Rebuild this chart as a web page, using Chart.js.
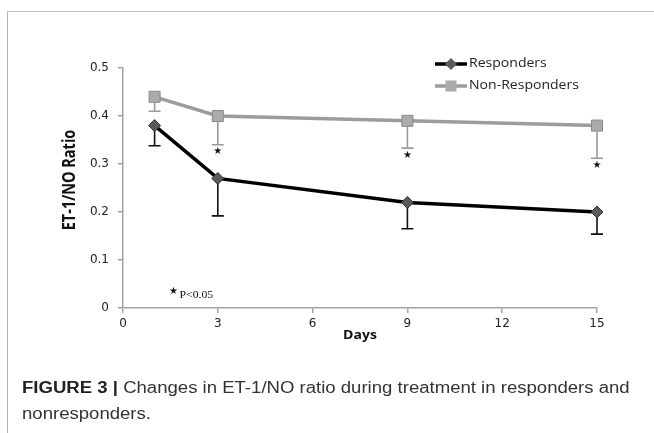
<!DOCTYPE html>
<html>
<head>
<meta charset="utf-8">
<script src="https://cdn.jsdelivr.net/npm/chart.js@4.4.1/dist/chart.umd.min.js"></script>
<style>
  html, body { margin: 0; padding: 0; background: #fff; }
  #wrap { position: relative; width: 654px; height: 433px; overflow: hidden; }
  #frame { position: absolute; left: 7px; top: 11px; width: 660px; height: 440px;
           border-top: 1px solid #c4c4c4; border-left: 1px solid #b4b4b4; }
  #chart { position: absolute; left: 0; top: 0; }
  .cap { position: absolute; left: 22px; font-family: "Liberation Sans", Arial, sans-serif;
         font-size: 16px; color: #333; white-space: nowrap;
         transform: scaleX(1.16); transform-origin: 0 0; }
  .cap b { color: #222; }
</style>
</head>
<body>
<div id="wrap">
  <div id="frame"></div>
  <canvas id="chart" width="654" height="433"></canvas>
  <div class="cap" style="top:379px"><b>FIGURE 3</b> <b>|</b> Changes in ET-1/NO ratio during treatment in responders and</div>
  <div class="cap" style="top:405px">nonresponders.</div>
</div>
<script>
// data
const days = [1, 3, 9, 15];
const responders = [0.38, 0.27, 0.22, 0.20];
const respondersErr = [0.042, 0.078, 0.055, 0.046];
const nonResponders = [0.44, 0.40, 0.39, 0.38];
const nonRespondersErr = [0.03, 0.06, 0.057, 0.068];
const significant = [false, true, true, true];
const xTicks = [0, 3, 6, 9, 12, 15];
const yTicks = [0, 0.1, 0.2, 0.3, 0.4, 0.5];
const seriesNames = ['Responders', 'Non-Responders'];

const axisGrey = '#a3a3a3';
const stretch = 1.17; // the source picture is a bit wider than tall

function wideText(ctx, text, x, y) {
    ctx.save();
    ctx.translate(x, y);
    ctx.scale(stretch, 1);
    ctx.fillText(text, 0, 0);
    ctx.restore();
}

// error bars (downward only), stars, titles and legend
const extras = {
    id: 'extras',
    beforeDatasetsDraw(chart) {
        const { ctx, scales: { x, y } } = chart;
        const errs = [respondersErr, nonRespondersErr];
        ctx.save();
        chart.data.datasets.forEach((ds, i) => {
            ctx.strokeStyle = i === 0 ? '#111' : '#9a9a9a';
            ctx.lineWidth = 1.6;
            ds.data.forEach((pt, j) => {
                const px = x.getPixelForValue(pt.x);
                const y0 = y.getPixelForValue(pt.y);
                const y1 = y.getPixelForValue(pt.y - errs[i][j]);
                ctx.beginPath();
                ctx.moveTo(px, y0);
                ctx.lineTo(px, y1);
                ctx.moveTo(px - 6, y1);
                ctx.lineTo(px + 6, y1);
                ctx.stroke();
            });
        });
        ctx.restore();
    },
    afterDraw(chart) {
        const { ctx, scales: { x, y } } = chart;
        ctx.save();
        ctx.fillStyle = '#111';
        ctx.textAlign = 'center';
        ctx.textBaseline = 'middle';
        ctx.font = '10px "DejaVu Sans"';
        nonResponders.forEach((v, j) => {
            if (!significant[j]) return;
            const px = x.getPixelForValue(days[j]);
            const py = y.getPixelForValue(v - nonRespondersErr[j]);
            ctx.fillText('★', px, py + 7);
        });
        // footnote
        const nx = x.getPixelForValue(1.6);
        const ny = y.getPixelForValue(0.035);
        ctx.fillText('★', nx, ny);
        ctx.textAlign = 'left';
        ctx.font = '10px "Liberation Serif"';
        wideText(ctx, 'P<0.05', nx + 6, ny + 4);

        // axis titles
        ctx.fillStyle = '#111';
        ctx.textAlign = 'center';
        ctx.font = 'bold 12px "Open Sans"';
        wideText(ctx, 'Days', (x.left + x.right) / 2, 336);
        ctx.save();
        ctx.translate(70, 180);
        ctx.rotate(-Math.PI / 2);
        ctx.scale(1, stretch);
        ctx.font = 'bold 14.5px "Open Sans"';
        ctx.fillText('ET-1/NO Ratio', 0, 0);
        ctx.restore();

        // legend
        const ly = [64, 86];
        chart.data.datasets.forEach((ds, i) => {
            ctx.strokeStyle = ds.borderColor;
            ctx.lineWidth = ds.borderWidth;
            ctx.beginPath();
            ctx.moveTo(435, ly[i]);
            ctx.lineTo(467, ly[i]);
            ctx.stroke();
            ctx.fillStyle = ds.pointBackgroundColor;
            ctx.strokeStyle = ds.pointBorderColor;
            ctx.lineWidth = 1;
            Chart.helpers.drawPoint(ctx, { pointStyle: ds.pointStyle, radius: ds.pointRadius, rotation: 0 }, 451, ly[i]);
            ctx.fillStyle = '#222';
            ctx.textAlign = 'left';
            ctx.font = '12px "Open Sans"';
            wideText(ctx, seriesNames[i], 469, ly[i]);
        });
        ctx.restore();
    }
};

new Chart(document.getElementById('chart').getContext('2d'), {
    type: 'line',
    data: {
        datasets: [
            {
                label: seriesNames[0],
                data: days.map((d, i) => ({ x: d, y: responders[i] })),
                borderColor: '#000',
                borderWidth: 3.5,
                pointStyle: 'rectRot',
                pointRadius: 6,
                pointBackgroundColor: '#5a5a5a',
                pointBorderColor: '#333',
                pointBorderWidth: 1,
                tension: 0,
                clip: false
            },
            {
                label: seriesNames[1],
                data: days.map((d, i) => ({ x: d, y: nonResponders[i] })),
                borderColor: '#9c9c9c',
                borderWidth: 3.5,
                pointStyle: 'rect',
                pointRadius: 7.8,
                pointBackgroundColor: '#ababab',
                pointBorderColor: '#8a8a8a',
                pointBorderWidth: 1,
                tension: 0,
                clip: false
            }
        ]
    },
    options: {
        responsive: false,
        animation: false,
        layout: { padding: { left: 58, top: 68, right: 57, bottom: 81 } },
        plugins: { legend: { display: false }, tooltip: { enabled: false } },
        scales: {
            x: {
                type: 'linear',
                min: 0,
                max: 15,
                afterBuildTicks: (s) => { s.ticks = xTicks.map(v => ({ value: v })); },
                afterFit: (s) => { s.height = 44; },
                ticks: { color: '#222', font: { family: 'DejaVu Sans', size: 12 }, padding: 4, maxRotation: 0 },
                grid: { drawOnChartArea: false, tickLength: 5, color: axisGrey, lineWidth: 1.5 },
                border: { color: axisGrey, width: 1.5 }
            },
            y: {
                min: 0,
                max: 0.5,
                afterBuildTicks: (s) => { s.ticks = yTicks.map(v => ({ value: v })); },
                afterFit: (s) => { s.width = 65; },
                ticks: { color: '#222', font: { family: 'DejaVu Sans', size: 12 }, padding: 9,
                         callback: (v) => v === 0 ? '0' : v.toFixed(1) },
                grid: { drawOnChartArea: false, tickLength: 5, color: axisGrey, lineWidth: 1.5 },
                border: { color: axisGrey, width: 1.5 }
            }
        }
    },
    plugins: [extras]
});
</script>
</body>
</html>
